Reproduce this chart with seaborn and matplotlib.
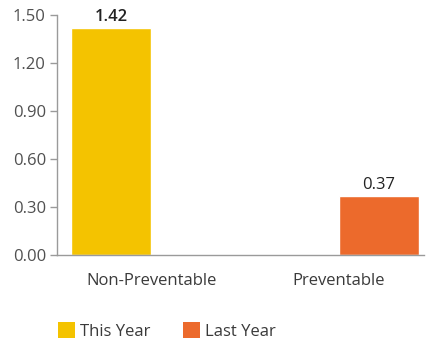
import matplotlib
matplotlib.use("Agg")
import matplotlib.pyplot as plt
import matplotlib.patches as mpatches
import seaborn as sns
import numpy as np
import pandas as pd

categories = ["Non-Preventable", "Preventable"]
series = ["This Year", "Last Year"]
this_year = [1.42, np.nan]
last_year = [np.nan, 0.37]
yticks = [0.00, 0.30, 0.60, 0.90, 1.20, 1.50]
colors = {"This Year": "#F4C300", "Last Year": "#EC6A2C"}

df = pd.DataFrame({
    "category": categories * 2,
    "series": [series[0]] * 2 + [series[1]] * 2,
    "value": this_year + last_year,
})

sns.set_theme(style="white")
plt.rcParams["font.family"] = ["Open Sans", "DejaVu Sans"]

fig = plt.figure(figsize=(4.29, 3.45), dpi=100)
ax = fig.add_axes([57 / 429, 1 - 255 / 345, (424 - 57) / 429, (255 - 15) / 345])

sns.barplot(data=df.dropna(), x="category", y="value", hue="series",
            order=categories, hue_order=series, palette=colors,
            dodge=True, width=0.86, legend=False, ax=ax, saturation=1)

ax.set_xlim(-0.505, 1.457)
ax.set_ylim(0, 1.5)
ax.set_yticks(yticks)
ax.set_yticklabels([f"{t:.2f}" for t in yticks])
ax.set_xlabel("")
ax.set_ylabel("")

for s in ["top", "right"]:
    ax.spines[s].set_visible(False)
for s in ["left", "bottom"]:
    ax.spines[s].set_color("#9a9a9a")
    ax.spines[s].set_linewidth(1.0)

ax.tick_params(axis="y", left=True, length=5, width=1, color="#9a9a9a",
               labelsize=12, labelcolor="#505050", pad=3)
ax.tick_params(axis="x", bottom=False, labelsize=12, labelcolor="#3a3a3a", pad=7)

# value labels above each drawn bar
for bar in ax.patches:
    h = bar.get_height()
    if np.isnan(h) or h == 0:
        continue
    ax.text(bar.get_x() + bar.get_width() / 2, h + 0.02, f"{h:.2f}",
            ha="center", va="bottom", fontsize=12, color="#222222",
            fontweight="semibold" if h > 1 else "normal")

handles = [mpatches.Patch(facecolor=colors[s], edgecolor="none", label=s) for s in series]
fig.legend(handles=handles, loc="center left", bbox_to_anchor=(43 / 429, 1 - 331 / 345),
           ncol=2, frameon=False, fontsize=12, handlelength=1.0, handleheight=1.1,
           handletextpad=0.3, columnspacing=2.0, labelcolor="#3a3a3a")

fig.savefig("out.png", dpi=100)
